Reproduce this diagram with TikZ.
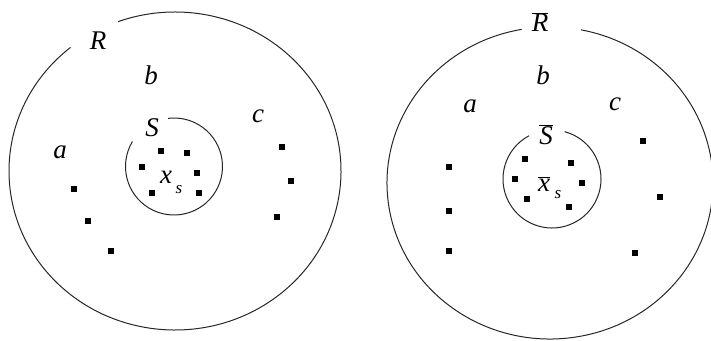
\documentclass[tikz,border=0pt]{standalone}
\usepackage{fontspec}
\setmainfont{Liberation Serif}
\begin{document}
\begin{tikzpicture}[x=1pt,y=-1pt,
  ring/.style={draw=black!85,line width=1pt},
  lbl/.style={font=\itshape\fontsize{27}{29}\selectfont,inner sep=0pt},
  sub/.style={font=\itshape\fontsize{17}{19}\selectfont,inner sep=0pt},
  pt/.style={fill=black}]
\useasboundingbox (0,0) rectangle (711,340);
% left figure
\draw[ring] (175,171) ++(129:166 and -159) arc[start angle=129,end angle=470,x radius=166,y radius=-159];
\draw[ring] (174,166.5) ++(149:48.5 and -48.5) arc[start angle=149,end angle=457,x radius=48.5,y radius=-48.5];
\node[lbl] (R) at (98,41) {R};
\node[lbl] (b1) at (151,75) {b};
\node[lbl] (c1) at (258,116) {c};
\node[lbl] (a1) at (60,152) {a};
\node[lbl] (S) at (152,128) {S};
\node[lbl] (xs) at (166,177) {x};
\node[sub] (xss) at (179,190) {s};
\foreach \p in {(161,151),(187,153),(142,167),(197,173),(152,193),(199,193),
                (74,189),(88,221),(111,251),(282,147),(291,181),(277,217)}
  \fill[pt] \p ++(-2.7,-2.7) rectangle ++(5.4,5.4);
% right figure
\draw[ring] (550,183) ++(100:163 and -156) arc[start angle=100,end angle=439,x radius=163,y radius=-156];
\draw[ring] (552,179) ++(118:49 and -49) arc[start angle=118,end angle=435,x radius=49,y radius=-49];
\node[lbl] (Rb) at (540,22) {$\overline{\mbox{\itshape R}}$};
\node[lbl] (b2) at (543,75) {b};
\node[lbl] (a2) at (470,106) {a};
\node[lbl] (c2) at (615,104) {c};
\node[lbl] (Sb) at (546,135) {$\overline{\mbox{\itshape S}}$};
\node[lbl] (xsb) at (544,184) {$\overline{\mbox{\itshape x}}$};
\node[sub] (xsbs) at (558,195) {s};
\foreach \p in {(525,159),(571,163),(515,179),(582,183),(527,199),(569,207),
                (449,167),(449,211),(449,251),(643,141),(660,197),(635,253)}
  \fill[pt] \p ++(-2.7,-2.7) rectangle ++(5.4,5.4);
\end{tikzpicture}
\end{document}
